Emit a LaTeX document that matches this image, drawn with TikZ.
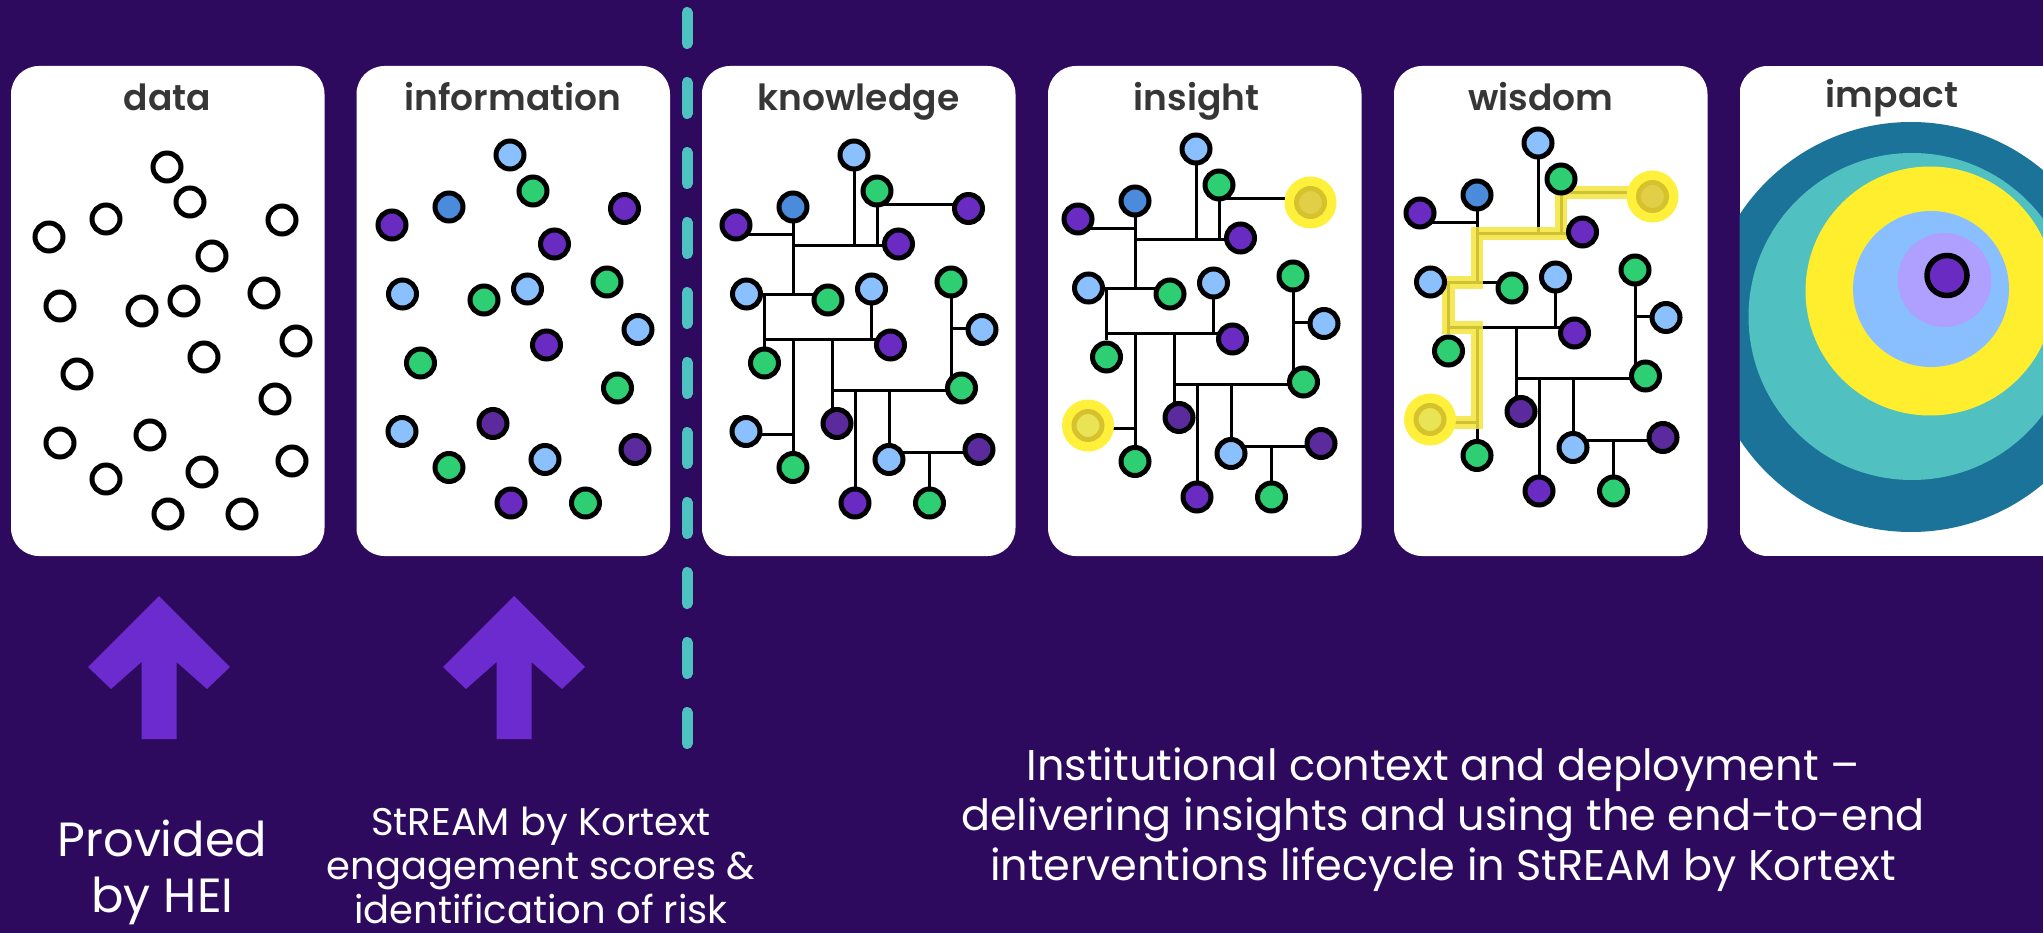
\documentclass[tikz,border=0pt]{standalone}
\usepackage{fontspec}
\setmainfont{Poppins}
\newfontfamily\titlefont{Poppins SemiBold}
\definecolor{cBG}{HTML}{2E0A5E}
\definecolor{cTitle}{HTML}{363636}
\definecolor{cLB}{HTML}{8BC0FF}
\definecolor{cMB}{HTML}{4A8CDB}
\definecolor{cGR}{HTML}{2DCF72}
\definecolor{cPU}{HTML}{6A2BC3}
\definecolor{cDP}{HTML}{5B2A9D}
\definecolor{cDash}{HTML}{4EC2C0}
\definecolor{cArrow}{HTML}{6C2BCF}
\definecolor{cGlow}{HTML}{FFF03C}
\definecolor{cYfive}{HTML}{E2CF48}
\definecolor{cYfift}{HTML}{E9E455}
\definecolor{cYS}{HTML}{D6C22C}
\definecolor{cHL}{HTML}{F4E43C}
\definecolor{cIa}{HTML}{1B7399}
\definecolor{cIb}{HTML}{50C1C0}
\definecolor{cIc}{HTML}{FFEE2E}
\definecolor{cId}{HTML}{8ABFFF}
\definecolor{cIe}{HTML}{AFA0FF}
\pgfdeclarelayer{cards}
\pgfdeclarelayer{edges}
\pgfdeclarelayer{hl}
\pgfsetlayers{cards,edges,hl,main}
\newcommand\netnodes[3]{%
 \node[nd,fill=cLB] (#1-1) at (854,155) {};
 \node[nd,fill=cGR] (#1-2) at (877,191) {};
 \node[nd,fill=cMB] (#1-3) at (793,207) {};
 \node[nd,fill=cPU] (#1-4) at (736,225) {};
 \node[nd,#2] (#1-5) at (968.5,208.5) {};
 \node[nd,fill=cPU] (#1-6) at (898.5,244) {};
 \node[nd,fill=cLB] (#1-7) at (746.5,294) {};
 \node[nd,fill=cGR] (#1-8) at (828,300) {};
 \node[nd,fill=cLB] (#1-9) at (871.5,289) {};
 \node[nd,fill=cGR] (#1-10) at (951,282) {};
 \node[nd,fill=cLB] (#1-11) at (982,329.5) {};
 \node[nd,fill=cPU] (#1-12) at (890.5,345) {};
 \node[nd,fill=cGR] (#1-13) at (764.5,363) {};
 \node[nd,fill=cGR] (#1-14) at (961.5,388) {};
 \node[nd,#3] (#1-15) at (746,431.5) {};
 \node[nd,fill=cDP] (#1-16) at (837,423.5) {};
 \node[nd,fill=cDP] (#1-17) at (979,449.5) {};
 \node[nd,fill=cGR] (#1-18) at (793,467.5) {};
 \node[nd,fill=cLB] (#1-19) at (889,459.5) {};
 \node[nd,fill=cPU] (#1-20) at (855,503) {};
 \node[nd,fill=cGR] (#1-21) at (929.5,503) {};
}
\newcommand\netlevels[1]{%
 \coordinate (#1-y1) at (0,245.5);
 \coordinate (#1-y2) at (0,204.5);
 \coordinate (#1-y3) at (0,234.5);
 \coordinate (#1-y4) at (0,294.5);
 \coordinate (#1-y5) at (0,339.5);
 \coordinate (#1-y6) at (0,434.5);
 \coordinate (#1-y7) at (0,390.5);
 \coordinate (#1-y8) at (0,452.5);
 \coordinate (#1-y9) at (0,329);
 \coordinate (#1-xG) at (832.5,0);
}
\newcommand\netedges[1]{%
\begin{pgfonlayer}{edges}
 \draw[wire] (#1-1) -- (#1-1 |- #1-y1);
 \draw[wire] (#1-3 |- #1-y1) -- (#1-6 |- #1-y1);
 \draw[wire] (#1-2) -- (#1-2 |- #1-y1);
 \draw[wire] (#1-2 |- #1-y2) -- (#1-5 |- #1-y2);
 \draw[wire] (#1-3) -- (#1-3 |- #1-y4);
 \draw[wire] (#1-4 |- #1-y3) -- (#1-3 |- #1-y3);
 \draw[wire] (#1-7 |- #1-y4) -- (#1-8 |- #1-y4);
 \draw[wire] (#1-13 |- #1-y4) -- (#1-13);
 \draw[wire] (#1-13 |- #1-y5) -- (#1-12 |- #1-y5);
 \draw[wire] (#1-9) -- (#1-9 |- #1-y5);
 \draw[wire] (#1-18 |- #1-y5) -- (#1-18);
 \draw[wire] (#1-15 |- #1-y6) -- (#1-18 |- #1-y6);
 \draw[wire] (#1-xG |- #1-y5) -- (#1-xG |- #1-16);
 \draw[wire] (#1-xG |- #1-y7) -- (#1-14 |- #1-y7);
 \draw[wire] (#1-20 |- #1-y7) -- (#1-20);
 \draw[wire] (#1-19 |- #1-y7) -- (#1-19);
 \draw[wire] (#1-19 |- #1-y8) -- (#1-17 |- #1-y8);
 \draw[wire] (#1-21 |- #1-y8) -- (#1-21);
 \draw[wire] (#1-10) -- (#1-10 |- #1-14);
 \draw[wire] (#1-10 |- #1-y9) -- (#1-11 |- #1-y9);
\end{pgfonlayer}}
\newcommand\uparrowshape[1]{%
 \fill[cArrow] (#1,596) -- ++(71,71) -- ++(-23,22) -- ++(-30.5,-27) -- ++(0,77)
   -- ++(-35,0) -- ++(0,-77) -- ++(-30.5,27) -- ++(-23,-22) -- cycle;}
\begin{document}
\begin{tikzpicture}[x=1pt,y=-1pt,
  nd/.style={circle, draw=black, line width=5pt, minimum size=28pt, inner sep=0pt},
  wire/.style={draw=black, line width=3pt},
  hlpath/.style={draw=cHL, line width=12.5pt, draw opacity=0.85, line join=miter},
  card/.style={fill=white, rounded corners=28pt},
  ttl/.style={text=cTitle, font=\titlefont\fontsize{36}{40}\selectfont, anchor=base, inner sep=0pt},
  txtA/.style={text=white, font=\fontsize{48}{56}\selectfont, anchor=base, inner sep=0pt},
  txtB/.style={text=white, font=\fontsize{38.5}{44}\selectfont, anchor=base, inner sep=0pt},
  txtC/.style={text=white, font=\fontsize{43}{50}\selectfont, anchor=base, inner sep=0pt}]
\useasboundingbox (0,0) rectangle (2043,933);
\begin{pgfonlayer}{cards}
 \fill[cBG] (0,0) rectangle (2043,933);
 \foreach \l in {11,356.5,702,1048,1394} \fill[card] (\l,66) rectangle ++(313.5,490);
 \draw[cDash, line width=11pt, line cap=round, dash pattern=on 31pt off 39pt] (687,12.5) -- (687,743.5);
 \uparrowshape{159}
 \uparrowshape{514}
 \begin{scope}
  \clip[rounded corners=28pt] (1739.5,66) rectangle (2100,556);
  \fill[white] (1739.5,66) rectangle (2100,556);
  \fill[cIa] (1911,327) circle[radius=205pt];
  \fill[cIb] (1912,316.5) circle[radius=163.5pt];
  \fill[cIc] (1930,291) circle[radius=124.5pt];
  \fill[cId] (1931,289) circle[radius=78pt];
  \fill[cIe] (1944.5,280) circle[radius=47pt];
 \end{scope}
\end{pgfonlayer}
% titles
\node[ttl] (t1) at (167.5,111) {data};
\node[ttl] (t2) at (513,111) {information};
\node[ttl] (t3) at (858.5,111) {knowledge};
\node[ttl] (t4) at (1196.5,111) {insight};
\node[ttl] (t5) at (1541,111) {wisdom};
\node[ttl] (t6) at (1892,108) {impact};
% data
\foreach \p [count=\i] in {(167,167),(190,202),(106,219),(282,220),(49,237),(212,256),(60,306),(142,311),(184,301),(264,293),(296,341),(204,357),(77,374),(275,399),(60,443),(150,435),(106,479),(202,472),(292,461),(168,514),(242,514)}
  \node[nd, fill=white] (d-\i) at \p {};
% information
\begin{scope}[shift={(-344,0)}]
 \netnodes{f}{fill=cPU}{fill=cLB}
\end{scope}
% knowledge
\begin{scope}
 \netnodes{k}{fill=cPU}{fill=cLB}
 \netlevels{k}
 \netedges{k}
\end{scope}
% insight
\begin{scope}[shift={(342,-6)}]
 \netnodes{i}{draw=cYS,fill=cYfive}{draw=cYS,fill=cYfift}
 \netlevels{i}
 \netedges{i}
 \begin{pgfonlayer}{hl}
  \fill[cGlow] (i-5) circle[radius=26pt];
  \fill[cGlow] (i-15) circle[radius=26pt];
 \end{pgfonlayer}
\end{scope}
% wisdom
\begin{scope}[shift={(684,-12)}]
 \netnodes{w}{draw=cYS,fill=cYfive}{draw=cYS,fill=cYfift}
 \netlevels{w}
 \netedges{w}
 \begin{pgfonlayer}{hl}
  \draw[hlpath] (w-5 |- w-y2) -- (w-2 |- w-y2) -- (w-2 |- w-y1) -- (w-3 |- w-y1) -- (w-3 |- w-y4)
     -- (w-13 |- w-y4) -- (w-13 |- w-y5) -- (w-18 |- w-y5) -- (w-18 |- w-y6) -- (w-15 |- w-y6);
  \fill[cGlow] (w-5) circle[radius=26pt];
  \fill[cGlow] (w-15) circle[radius=26pt];
 \end{pgfonlayer}
\end{scope}
% impact centre
\node[circle, draw=black, line width=5.5pt, minimum size=40pt, inner sep=0pt, fill=cPU] (m) at (1947,275.5) {};
% bottom texts
\node[txtA] (a1) at (162.5,856) {Provided};
\node[txtA] (a2) at (162.5,912) {by HEI};
\node[txtB] (b1) at (541,835) {StREAM by Kortext};
\node[txtB] (b2) at (541,879) {engagement scores \&};
\node[txtB] (b3) at (541,923) {identification of risk};
\node[txtC] (c1) at (1443,780) {Institutional context and deployment –};
\node[txtC] (c2) at (1443,830) {delivering insights and using the end-to-end};
\node[txtC] (c3) at (1443,880) {interventions lifecycle in StREAM by Kortext};
\end{tikzpicture}
\end{document}
